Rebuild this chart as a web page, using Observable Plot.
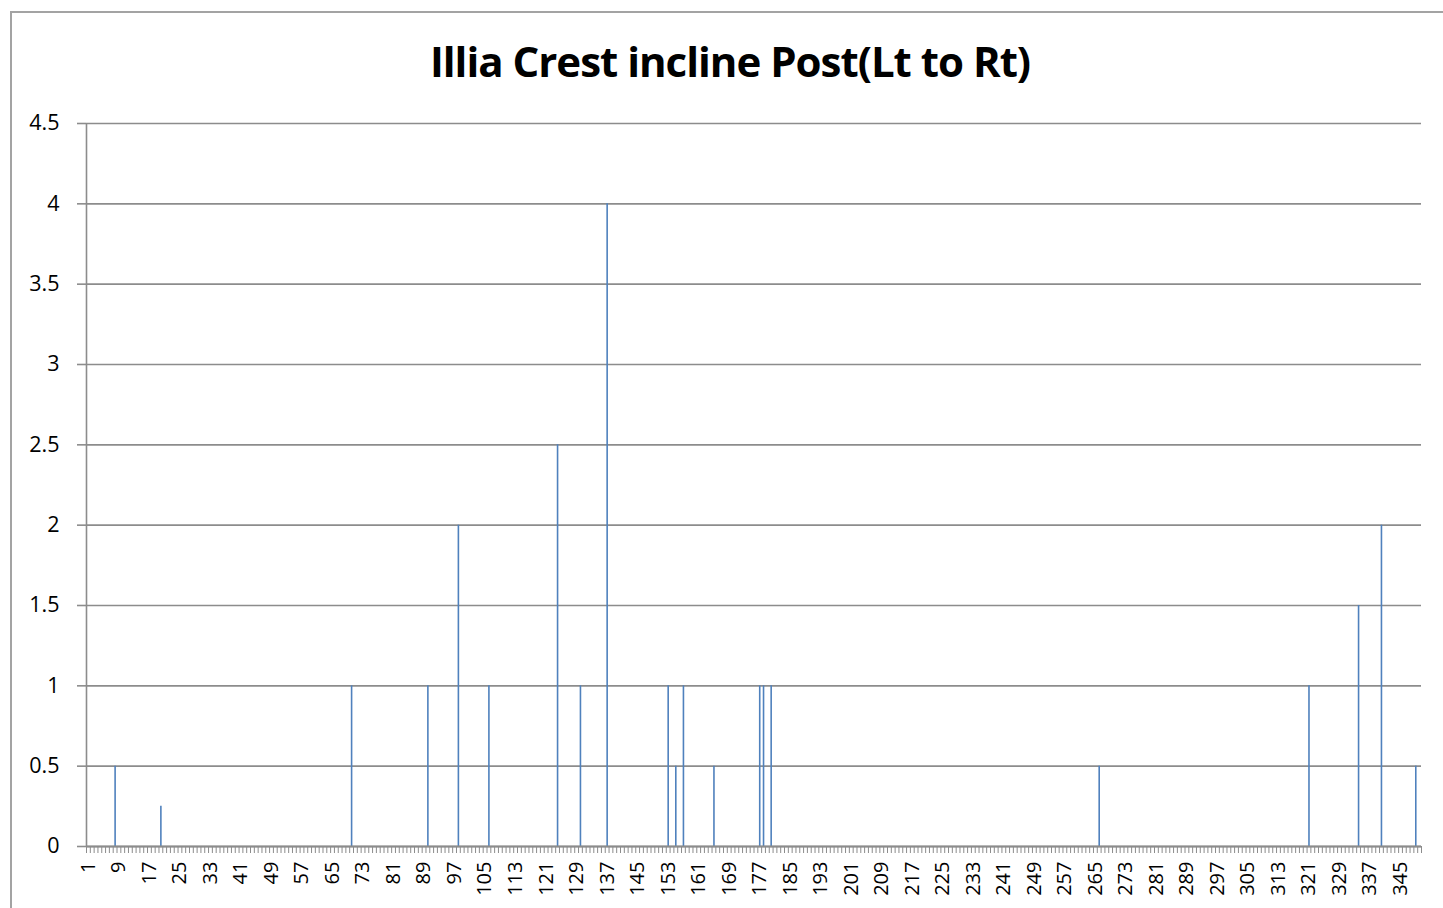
<!DOCTYPE html>
<html>
<head>
<meta charset="utf-8">
<script src="https://cdn.jsdelivr.net/npm/d3@7"></script>
<script src="https://cdn.jsdelivr.net/npm/@observablehq/plot@0.6"></script>
<style>
  html, body { margin: 0; padding: 0; background: #fff; overflow: hidden; }
  #wrap { position: relative; width: 1443px; height: 908px; }
  #frame { position: absolute; left: 10px; top: 11px; width: 1500px; height: 950px;
           border: 2px solid #a3a3a3; box-sizing: border-box; }
  #title { position: absolute; left: 0; width: 1460px; top: 40px; text-align: center; line-height: 1;
           font-family: "Open Sans", sans-serif; font-weight: 700; font-size: 42px; letter-spacing: -1px; color: #000; }
  #chart { position: absolute; left: 0; top: 0; }
  #chart svg text { font-size: 20px; font-family: "Open Sans", sans-serif; fill: #000; }
  #chart svg g[aria-label="y-axis tick label"] text { font-size: 21.5px; }
</style>
</head>
<body>
<div id="wrap">
  <div id="frame"></div>
  <div id="title">Illia Crest incline Post(Lt to Rt)</div>
  <div id="chart"></div>
</div>
<script>
const categoryCount = 350;
const positions = [8, 20, 70, 90, 98, 106, 124, 130, 137, 153, 155, 157, 165, 177, 178, 180, 266, 321, 334, 340, 349];
const values    = [0.5, 0.25, 1, 1, 2, 1, 2.5, 1, 4, 1, 0.5, 1, 0.5, 1, 1, 1, 0.5, 1, 1.5, 2, 0.5];
const xTickLabels = [1, 9, 17, 25, 33, 41, 49, 57, 65, 73, 81, 89, 97, 105, 113, 121, 129, 137, 145, 153, 161, 169, 177, 185, 193, 201, 209, 217, 225, 233, 241, 249, 257, 265, 273, 281, 289, 297, 305, 313, 321, 329, 337, 345];
const yTicks = [0, 0.5, 1, 1.5, 2, 2.5, 3, 3.5, 4, 4.5];

const data = positions.map((p, i) => ({cat: p, value: values[i]}));
const boundaries = d3.range(0, categoryCount + 1).map(i => i + 0.5);

const gridColor = "#8c8c8c";

const chart = Plot.plot({
  width: 1443,
  height: 908,
  marginLeft: 86,
  marginRight: 22,
  marginTop: 123,
  marginBottom: 62,
  style: {fontFamily: "'Open Sans', sans-serif", fontSize: "20px", color: "#000", background: "transparent"},
  x: {type: "linear", domain: [0.5, categoryCount + 0.5]},
  y: {domain: [0, 4.5]},
  marks: [
    Plot.gridY(yTicks, {stroke: gridColor, strokeOpacity: 1, strokeWidth: 1.6, x1: 0.5, x2: categoryCount + 0.5}),
    Plot.axisY(yTicks, {tickSize: 9, tickPadding: 18, stroke: gridColor, strokeWidth: 1.6, tickFormat: d => String(d), label: null}),
    Plot.ruleX([0.5], {stroke: gridColor, strokeWidth: 1.6}),
    Plot.ruleX(data, {x: "cat", y1: 0, y2: "value", stroke: "#4f81bd", strokeWidth: 1.6}),
    Plot.ruleY([0], {stroke: gridColor, strokeWidth: 1.8}),
    Plot.axisX(boundaries, {tickSize: 7, stroke: gridColor, strokeWidth: 1, tickFormat: () => "", label: null}),
    Plot.axisX(xTickLabels, {tickSize: 0, tickPadding: 15, tickRotate: -90, tickFormat: d => String(d), label: null})
  ]
});
document.getElementById("chart").appendChild(chart);
</script>
</body>
</html>
